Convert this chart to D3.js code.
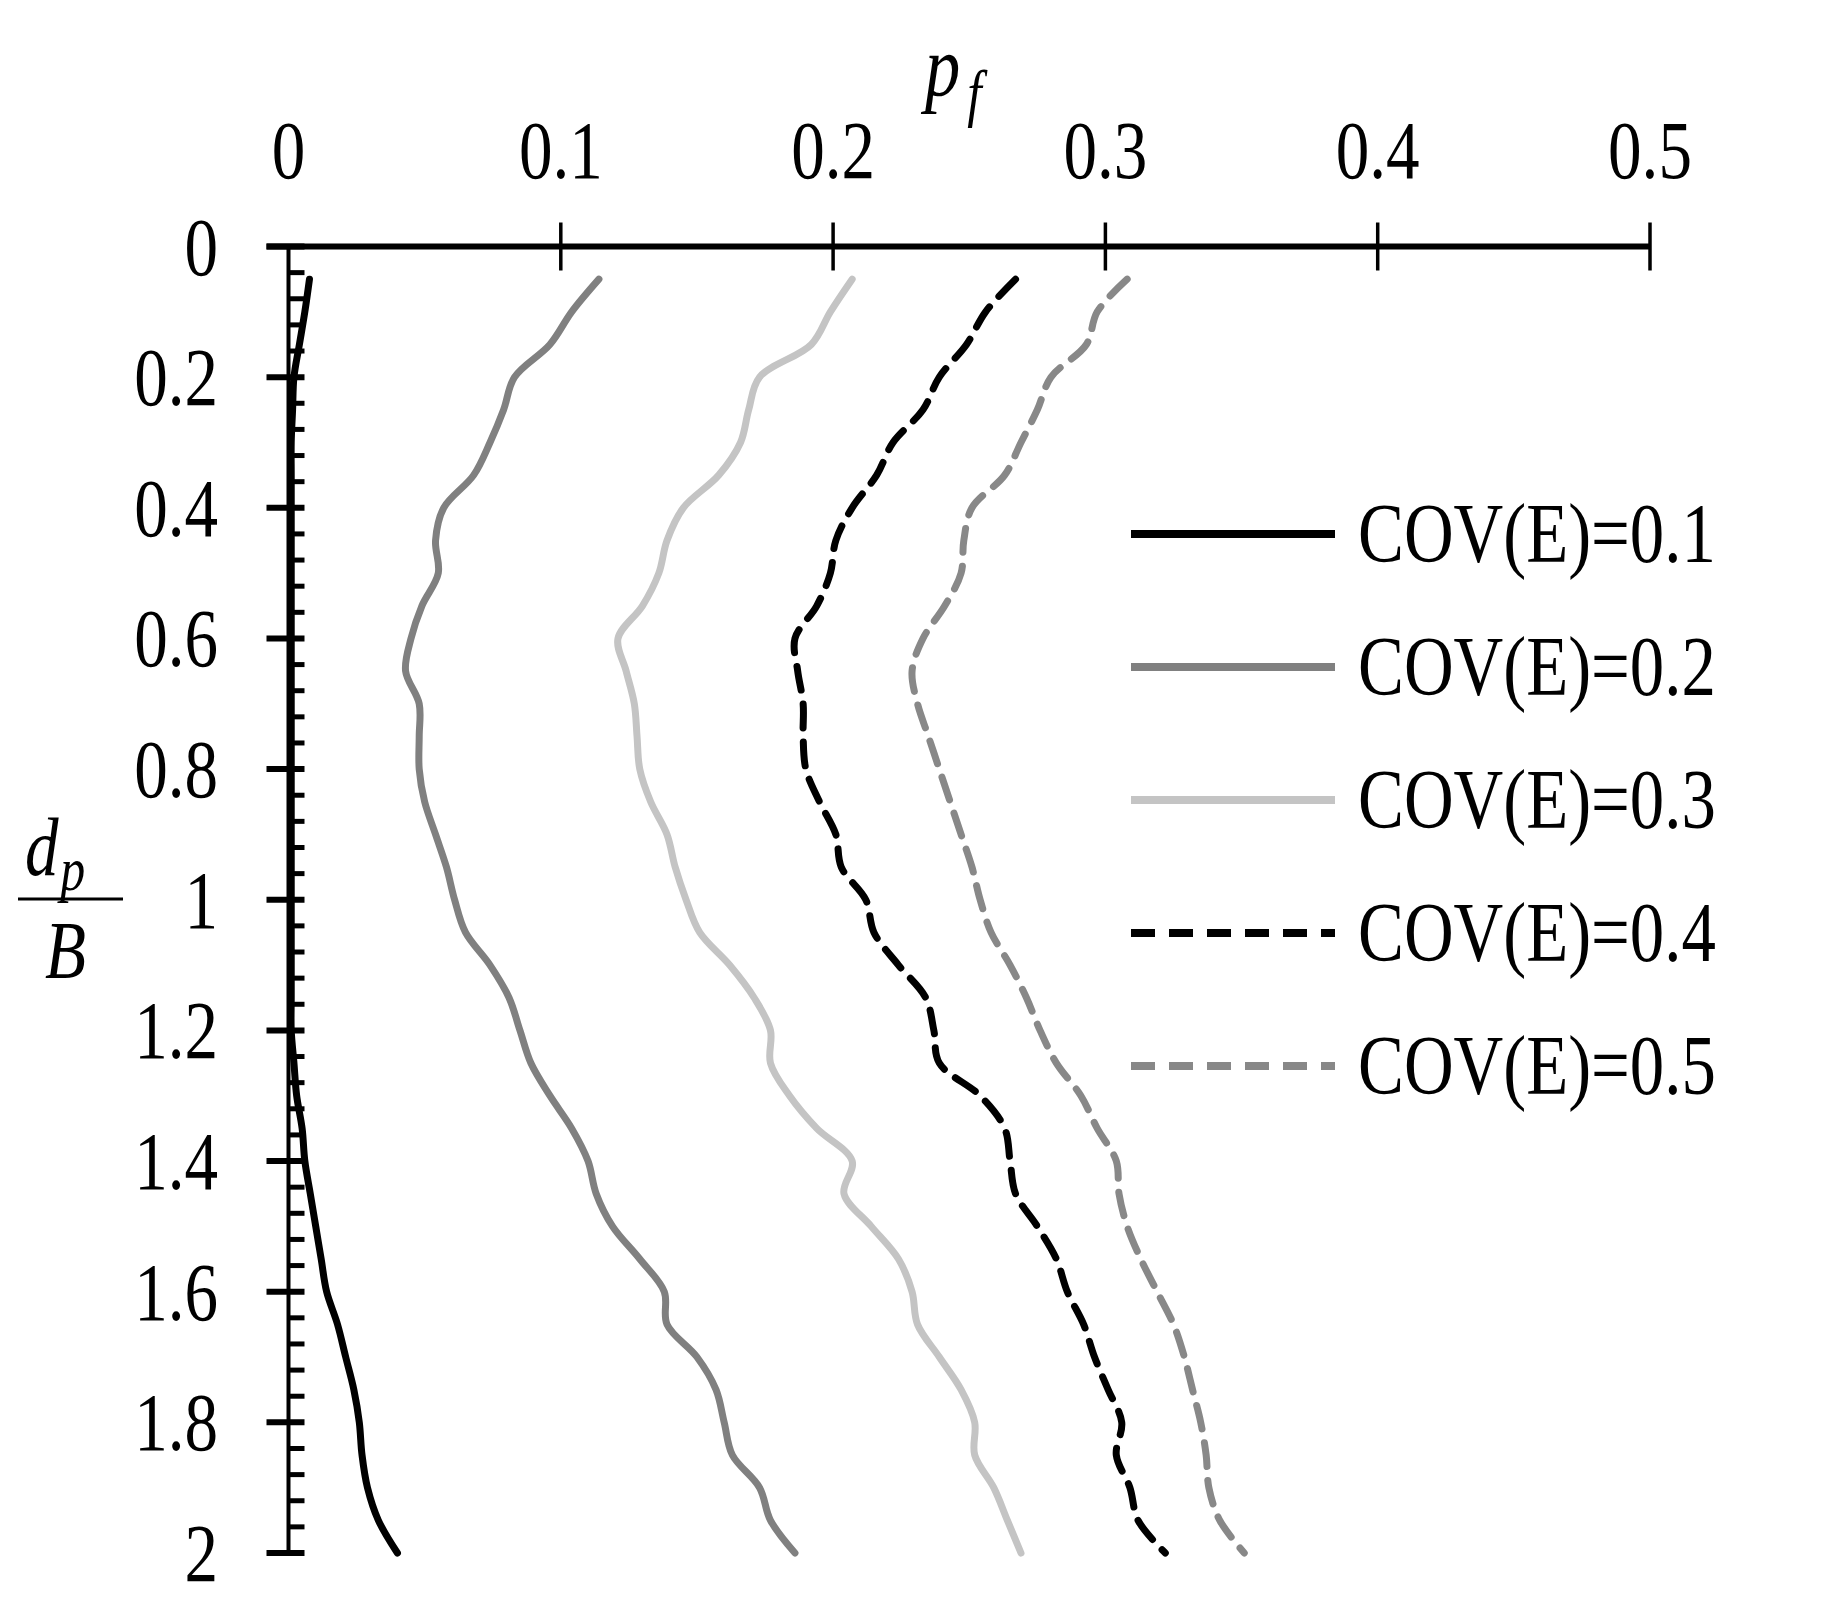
<!DOCTYPE html>
<html><head><meta charset="utf-8">
<script src="https://cdn.jsdelivr.net/npm/d3@7"></script>
<style>body{margin:0;background:#fff}svg{display:block}</style>
</head><body><svg id="c" width="1830" height="1615"></svg>
<script>
const depths = d3.range(1,41).map(i=>i*0.05);
const cov01 = [0.0077,0.006,0.004,0.002,0.0015,0.001,0.001,0.001,0.001,0.001,0.001,0.001,0.001,0.001,0.001,0.001,0.001,0.001,0.001,0.001,0.001,0.001,0.001,0.001,0.002,0.003,0.005,0.006,0.008,0.010,0.012,0.014,0.018,0.021,0.024,0.026,0.027,0.029,0.033,0.040];
const cov02 = [0.114,0.104,0.096,0.083,0.079,0.074,0.068,0.057,0.054,0.055,0.049,0.045,0.043,0.048,0.048,0.048,0.050,0.054,0.058,0.061,0.065,0.074,0.081,0.085,0.089,0.096,0.104,0.110,0.113,0.119,0.129,0.138,0.139,0.150,0.157,0.160,0.163,0.173,0.177,0.186];
const cov03 = [0.207,0.199,0.192,0.173,0.169,0.166,0.158,0.145,0.139,0.136,0.130,0.121,0.124,0.127,0.128,0.129,0.133,0.139,0.142,0.146,0.151,0.162,0.171,0.177,0.177,0.184,0.194,0.207,0.204,0.214,0.224,0.229,0.231,0.239,0.247,0.252,0.252,0.259,0.264,0.269];
const cov04 = [0.267,0.256,0.249,0.239,0.233,0.222,0.216,0.207,0.201,0.199,0.194,0.186,0.187,0.189,0.189,0.190,0.195,0.201,0.203,0.212,0.215,0.224,0.234,0.237,0.239,0.254,0.263,0.265,0.267,0.275,0.282,0.286,0.292,0.296,0.301,0.306,0.304,0.309,0.312,0.322];
const cov05 = [0.308,0.297,0.293,0.280,0.275,0.269,0.263,0.251,0.248,0.247,0.241,0.233,0.229,0.231,0.235,0.239,0.243,0.247,0.251,0.254,0.258,0.265,0.271,0.276,0.282,0.291,0.297,0.304,0.305,0.308,0.313,0.319,0.325,0.329,0.332,0.335,0.337,0.338,0.342,0.351];
const seriesNames = ["COV(E)=0.1","COV(E)=0.2","COV(E)=0.3","COV(E)=0.4","COV(E)=0.5"];
const xTicks = [0,0.1,0.2,0.3,0.4,0.5];
const yTicks = [0,0.2,0.4,0.6,0.8,1,1.2,1.4,1.6,1.8,2];

const styles = [
 {c:"#000",d:null},{c:"#808080",d:null},{c:"#c4c4c4",d:null},{c:"#000",d:"24,14"},{c:"#888",d:"24,14"}];
const data=[cov01,cov02,cov03,cov04,cov05];
const svg=d3.select("#c");
const F="'Liberation Serif','Times New Roman',serif";
const x=d3.scaleLinear().domain([0,0.5]).range([288.5,1650]);
const y=d3.scaleLinear().domain([0,2]).range([246.5,1553]);
function txt(px,py,anchor,size){
  return svg.append("text").attr("transform",`translate(${px},${py}) scale(0.86,1.05)`).attr("text-anchor",anchor).attr("font-family",F).attr("font-size",size);
}

svg.append("line").attr("x1",x(0)-22).attr("x2",x(0.5)).attr("y1",y(0)).attr("y2",y(0)).attr("stroke","#000").attr("stroke-width",6);
xTicks.forEach(t=>{
  if(t>0) svg.append("line").attr("x1",x(t)).attr("x2",x(t)).attr("y1",y(0)-24).attr("y2",y(0)+24).attr("stroke","#000").attr("stroke-width",3.5);
  txt(x(t),178,"middle",78).text(t===0?"0":d3.format(".1f")(t));
});
svg.append("line").attr("x1",x(0)).attr("x2",x(0)).attr("y1",y(0)).attr("y2",y(2)).attr("stroke","#000").attr("stroke-width",4);
d3.range(0,51).forEach(i=>{const v=i*0.04; if(i%5===0) return;
  svg.append("line").attr("x1",x(0)).attr("x2",x(0)+16).attr("y1",y(v)).attr("y2",y(v)).attr("stroke","#000").attr("stroke-width",5);});
yTicks.forEach(t=>{
  svg.append("line").attr("x1",x(0)-22).attr("x2",x(0)+16).attr("y1",y(t)).attr("y2",y(t)).attr("stroke","#000").attr("stroke-width",6);
  txt(218,y(t)+28,"end",78).text(t===0||t===1||t===2?String(t):d3.format(".1f")(t));
});
const pt=txt(925,95,"start",82).attr("font-style","italic");
pt.append("tspan").text("p");pt.append("tspan").attr("font-size",60).attr("dy",18).attr("dx",8).text("f");
const dt=txt(25,875,"start",78).attr("font-style","italic");
dt.append("tspan").text("d");dt.append("tspan").attr("font-size",58).attr("dy",14).attr("dx",2).text("p");
svg.append("line").attr("x1",18).attr("x2",123).attr("y1",899).attr("y2",899).attr("stroke","#000").attr("stroke-width",3);
txt(45,978,"start",78).attr("font-style","italic").text("B");

const line=d3.line().x(d=>x(d[0])).y(d=>y(d[1])).curve(d3.curveCatmullRom);
data.forEach((s,i)=>{
  svg.append("path").attr("d",line(s.map((v,j)=>[v,depths[j]]))).attr("fill","none")
   .attr("stroke",styles[i].c).attr("stroke-width",7).attr("stroke-dasharray",styles[i].d).attr("stroke-linecap","round");
});
seriesNames.forEach((n,i)=>{
  const ly=534+i*133;
  svg.append("line").attr("x1",1131).attr("x2",1335).attr("y1",ly).attr("y2",ly).attr("stroke",styles[i].c).attr("stroke-width",8).attr("stroke-dasharray",styles[i].d);
  txt(1358,ly+28,"start",80).text(n);
});
</script></body></html>
